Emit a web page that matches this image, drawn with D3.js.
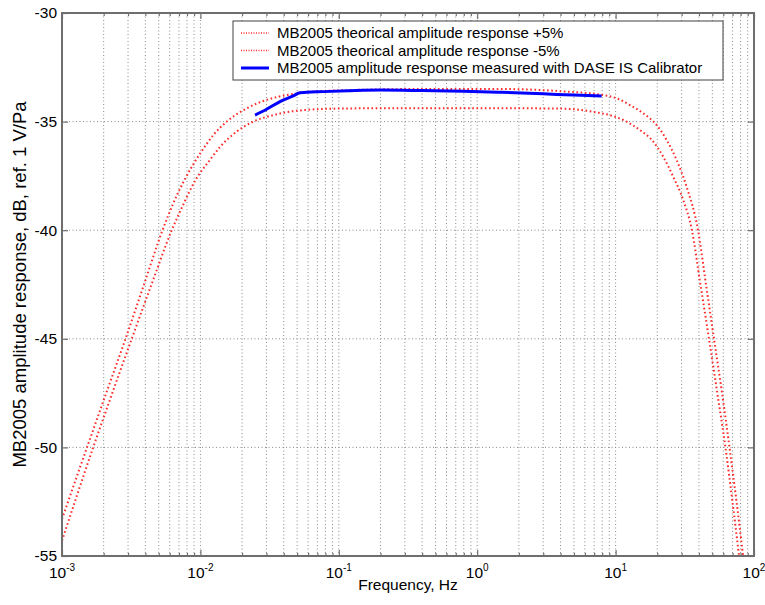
<!DOCTYPE html>
<html>
<head>
<meta charset="utf-8">
<script src="https://cdn.jsdelivr.net/npm/d3@7"></script>
<style>
  body { margin: 0; background: #fff; }
  svg { font-family: "Liberation Sans", Arial, sans-serif; }
</style>
</head>
<body>
<div id="wrapper"></div>
<script>
// theoretical response +5%
const freqPlus5 = [0.001, 0.001516, 0.002087, 0.002876, 0.003913, 0.005323, 0.00637, 0.0078, 0.01, 0.0124, 0.0155, 0.0216, 0.0301, 0.042, 0.065, 0.12, 0.4, 1.5, 4, 8.15, 10.2, 12.7, 15.85, 19.8, 23.4, 27.6, 32.6, 39.4, 45.0, 51.4, 58.8, 66.5, 74.8, 83.4];
const dbPlus5 = [-53.3, -50.0, -47.5, -45.0, -42.5, -40.0, -38.76, -37.6, -36.45, -35.62, -35.0, -34.39, -34.0, -33.78, -33.62, -33.55, -33.5, -33.5, -33.6, -33.78, -33.93, -34.24, -34.62, -35.16, -35.85, -36.77, -38.0, -40.0, -42.5, -45.0, -47.5, -50.0, -52.5, -55.0];

// theoretical response -5%
const freqMinus5 = [0.001, 0.00168, 0.002309, 0.00319, 0.004433, 0.00621, 0.00752, 0.0092, 0.0117, 0.0139, 0.0183, 0.0241, 0.0337, 0.0497, 0.1, 0.3, 1, 3.96, 6.9, 9.63, 12.0, 15.0, 18.7, 22.1, 26.1, 30.8, 35.6, 41.0, 47.3, 54.3, 62.2, 69.9, 78.0];
const dbMinus5 = [-54.3, -50.0, -47.5, -45.0, -42.5, -40.0, -38.82, -37.7, -36.77, -36.16, -35.46, -35.0, -34.7, -34.5, -34.4, -34.38, -34.38, -34.4, -34.55, -34.75, -35.0, -35.39, -35.92, -36.62, -37.54, -38.61, -40.0, -42.5, -45.0, -47.5, -50.0, -52.5, -55.0];

// measured with DASE IS Calibrator
const freqMeasured = [0.0248, 0.0301, 0.0376, 0.0469, 0.0525, 0.0773, 0.12, 0.2, 0.4, 0.8, 1.5, 3, 5, 7.93];
const dbMeasured = [-34.7, -34.43, -34.08, -33.82, -33.67, -33.62, -33.58, -33.55, -33.57, -33.6, -33.65, -33.72, -33.78, -33.82];

const xTickValues = [1e-3, 1e-2, 1e-1, 1, 10, 100];
const xTickExponents = ["-3", "-2", "-1", "0", "1", "2"];
const yTickValues = [-55, -50, -45, -40, -35, -30];
const legendLabels = [
    "MB2005 theorical amplitude response +5%",
    "MB2005 theorical amplitude response -5%",
    "MB2005 amplitude response measured with DASE IS Calibrator"
];

const dimension = {
    width: 765,
    height: 605,
    margin: { top: 13, left: 62, right: 11, bottom: 49 }
};
dimension.boundedWidth = dimension.width - dimension.margin.left - dimension.margin.right;
dimension.boundedHeight = dimension.height - dimension.margin.top - dimension.margin.bottom;

const svg = d3.select("#wrapper").append("svg")
    .attr("width", dimension.width)
    .attr("height", dimension.height);

const bounded = svg.append("g")
    .attr("transform", `translate(${dimension.margin.left},${dimension.margin.top})`);

const xScaler = d3.scaleLog()
    .domain([1e-3, 1e2])
    .range([0, dimension.boundedWidth]);

const yScaler = d3.scaleLinear()
    .domain([-55, -30])
    .range([dimension.boundedHeight, 0]);

// minor log ticks 2..9 in every decade
const minorTicks = [];
for (let e = -3; e < 2; e++) {
    for (let k = 2; k <= 9; k++) minorTicks.push(k * Math.pow(10, e));
}
const allXTicks = minorTicks.concat(xTickValues.slice(1, -1));

// grid
const gridColor = "#8a8a8a";
bounded.append("g")
    .selectAll("line")
    .data(allXTicks)
    .join("line")
    .attr("x1", d => xScaler(d)).attr("x2", d => xScaler(d))
    .attr("y1", 0).attr("y2", dimension.boundedHeight)
    .attr("stroke", gridColor)
    .attr("stroke-width", 1)
    .attr("stroke-dasharray", "1,2.5");

bounded.append("g")
    .selectAll("line")
    .data(yTickValues.slice(1, -1))
    .join("line")
    .attr("x1", 0).attr("x2", dimension.boundedWidth)
    .attr("y1", d => yScaler(d)).attr("y2", d => yScaler(d))
    .attr("stroke", gridColor)
    .attr("stroke-width", 1)
    .attr("stroke-dasharray", "1,2.5");

// axes (ticks pointing inward on all four sides)
const axisColor = "#6e6e6e";
function styleAxis(g) {
    g.select(".domain").remove();
    g.selectAll(".tick line").attr("stroke", axisColor).attr("stroke-width", 1.2);
    g.selectAll("text").remove();
}

bounded.append("g")
    .attr("transform", `translate(0,${dimension.boundedHeight})`)
    .call(d3.axisBottom(xScaler).tickValues(xTickValues).tickSizeInner(-6).tickSizeOuter(0))
    .call(styleAxis);
bounded.append("g")
    .attr("transform", `translate(0,${dimension.boundedHeight})`)
    .call(d3.axisBottom(xScaler).tickValues(minorTicks).tickSizeInner(-3).tickSizeOuter(0))
    .call(styleAxis);
bounded.append("g")
    .call(d3.axisTop(xScaler).tickValues(xTickValues).tickSizeInner(-6).tickSizeOuter(0))
    .call(styleAxis);
bounded.append("g")
    .call(d3.axisTop(xScaler).tickValues(minorTicks).tickSizeInner(-3).tickSizeOuter(0))
    .call(styleAxis);
bounded.append("g")
    .call(d3.axisLeft(yScaler).tickValues(yTickValues).tickSizeInner(-6).tickSizeOuter(0))
    .call(styleAxis);
bounded.append("g")
    .attr("transform", `translate(${dimension.boundedWidth},0)`)
    .call(d3.axisRight(yScaler).tickValues(yTickValues).tickSizeInner(-6).tickSizeOuter(0))
    .call(styleAxis);

// tick labels
const tickFont = 15.5;
bounded.append("g")
    .selectAll("text")
    .data(yTickValues)
    .join("text")
    .attr("x", -5)
    .attr("y", d => yScaler(d))
    .attr("dy", "0.35em")
    .attr("text-anchor", "end")
    .attr("font-size", tickFont)
    .attr("fill", "#000")
    .text(d => String(d));

const xLabels = bounded.append("g")
    .selectAll("text")
    .data(xTickValues)
    .join("text")
    .attr("x", d => xScaler(d))
    .attr("y", dimension.boundedHeight + 22)
    .attr("text-anchor", "middle")
    .attr("font-size", tickFont)
    .attr("fill", "#000");
xLabels.append("tspan").text("10");
xLabels.append("tspan")
    .attr("dy", -7)
    .attr("font-size", 10)
    .text((d, i) => xTickExponents[i]);

// curves
const line = d3.line()
    .x(d => xScaler(d[0]))
    .y(d => yScaler(d[1]))
    .curve(d3.curveMonotoneX);

svg.append("defs").append("clipPath").attr("id", "plot-clip")
    .append("rect")
    .attr("width", dimension.boundedWidth)
    .attr("height", dimension.boundedHeight);

const curves = bounded.append("g").attr("clip-path", "url(#plot-clip)");

const redColor = "#ff2a2a";
curves.append("path")
    .attr("d", line(d3.zip(freqPlus5, dbPlus5)))
    .attr("fill", "none")
    .attr("stroke", redColor)
    .attr("stroke-width", 2)
    .attr("stroke-dasharray", "1.6,2.6");

curves.append("path")
    .attr("d", line(d3.zip(freqMinus5, dbMinus5)))
    .attr("fill", "none")
    .attr("stroke", redColor)
    .attr("stroke-width", 2)
    .attr("stroke-dasharray", "1.6,2.6");

curves.append("path")
    .attr("d", line(d3.zip(freqMeasured, dbMeasured)))
    .attr("fill", "none")
    .attr("stroke", "#0000ff")
    .attr("stroke-width", 3);

// box
bounded.append("rect")
    .attr("width", dimension.boundedWidth)
    .attr("height", dimension.boundedHeight)
    .attr("fill", "none")
    .attr("stroke", axisColor)
    .attr("stroke-width", 2);

// legend
const legend = svg.append("g").attr("transform", "translate(233,21)");
legend.append("rect")
    .attr("width", 490)
    .attr("height", 59)
    .attr("fill", "#fff")
    .attr("stroke", "#404040")
    .attr("stroke-width", 1);

const legendStyles = [
    { color: redColor, width: 1.5, dash: "1,1.5" },
    { color: redColor, width: 1.5, dash: "1,1.5" },
    { color: "#0000ff", width: 3, dash: null }
];
legendLabels.forEach((label, i) => {
    const y = 12 + i * 17.5;
    legend.append("line")
        .attr("x1", 8).attr("x2", 36)
        .attr("y1", y).attr("y2", y)
        .attr("stroke", legendStyles[i].color)
        .attr("stroke-width", legendStyles[i].width)
        .attr("stroke-dasharray", legendStyles[i].dash);
    legend.append("text")
        .attr("x", 44)
        .attr("y", y)
        .attr("dy", "0.35em")
        .attr("font-size", 15)
        .attr("fill", "#000")
        .text(label);
});

// axis titles
svg.append("text")
    .attr("x", dimension.margin.left + dimension.boundedWidth / 2)
    .attr("y", 590)
    .attr("text-anchor", "middle")
    .attr("font-size", 15.5)
    .attr("fill", "#000")
    .text("Frequency, Hz");

svg.append("text")
    .attr("transform", `translate(26,${dimension.margin.top + dimension.boundedHeight / 2}) rotate(-90)`)
    .attr("text-anchor", "middle")
    .attr("font-size", 18.5)
    .attr("fill", "#000")
    .text("MB2005 amplitude response, dB, ref. 1 V/Pa");
</script>
</body>
</html>
